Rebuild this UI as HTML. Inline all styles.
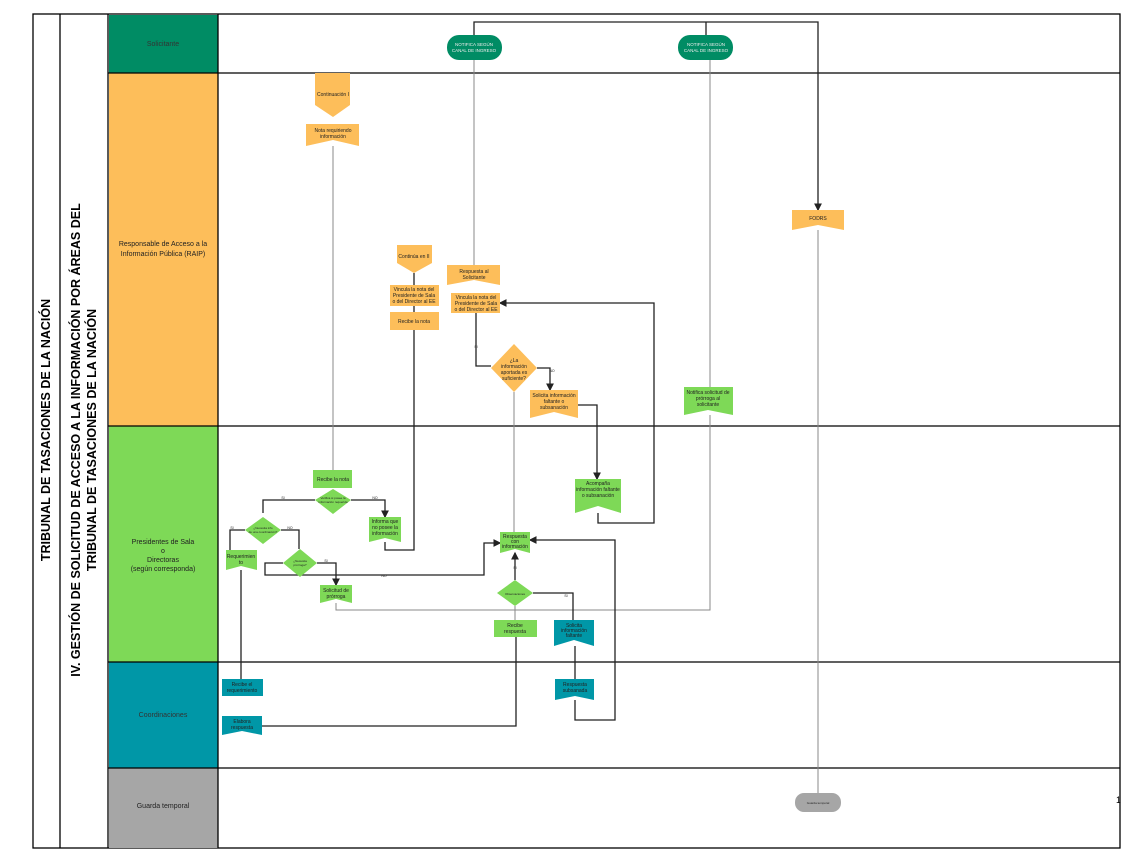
<!DOCTYPE html>
<html><head><meta charset="utf-8"><style>
html,body{margin:0;padding:0;background:#fff}
svg{display:block;font-family:"Liberation Sans",sans-serif}
.t{font-size:5px;text-anchor:middle;fill:#222}
.l{fill:none;stroke:#222;stroke-width:1.3}
.g{fill:none;stroke:#888;stroke-width:1}
.o{fill:#FDBE5A}.gr{fill:#7ED957}.c{fill:#0097A7}
</style></head><body>
<svg width="1128" height="859" viewBox="0 0 1128 859">
<defs><marker id="a" markerWidth="6" markerHeight="6" refX="5" refY="3" orient="auto"><path d="M0,0L6,3L0,6z" fill="#222"/></marker></defs>
<!-- frame -->
<rect x="33" y="14" width="1087" height="834" fill="none" stroke="#000" stroke-width="1.3"/>
<line x1="60" y1="14" x2="60" y2="848" stroke="#000" stroke-width="1.3"/>
<line x1="108" y1="14" x2="108" y2="848" stroke="#000" stroke-width="1.3"/>
<rect x="109" y="15" width="109" height="58" fill="#008C64"/>
<rect x="109" y="73" width="109" height="353" fill="#FDBE5A"/>
<rect x="109" y="426" width="109" height="236" fill="#7ED957"/>
<rect x="109" y="662" width="109" height="106" fill="#0097A7"/>
<rect x="109" y="768" width="109" height="80" fill="#A6A6A6"/>
<g stroke="#000" stroke-width="1.3">
<line x1="218" y1="14" x2="218" y2="848"/>
<line x1="108" y1="73" x2="1120" y2="73"/>
<line x1="108" y1="426" x2="1120" y2="426"/>
<line x1="108" y1="662" x2="1120" y2="662"/>
<line x1="108" y1="768" x2="1120" y2="768"/>
</g>
<g font-size="7" text-anchor="middle" fill="#222">
<text x="163" y="46" fill="#333">Solicitante</text>
<text x="163" y="246">Responsable de Acceso a la</text>
<text x="163" y="256">Información Pública (RAIP)</text>
<text x="163" y="544">Presidentes de Sala</text>
<text x="163" y="553">o</text>
<text x="163" y="562">Directoras</text>
<text x="163" y="571">(según corresponda)</text>
<text x="163" y="717" fill="#333">Coordinaciones</text>
<text x="163" y="808">Guarda temporal</text>
</g>
<g font-weight="bold" font-size="12.5" text-anchor="middle" fill="#000">
<text transform="translate(50,430) rotate(-90)">TRIBUNAL DE TASACIONES DE LA NACIÓN</text>
<text transform="translate(80,440) rotate(-90)">IV. GESTIÓN DE SOLICITUD DE ACCESO A LA INFORMACIÓN POR ÁREAS DEL</text>
<text transform="translate(96,440) rotate(-90)">TRIBUNAL DE TASACIONES DE LA NACIÓN</text>
</g>
<!-- connectors -->
<path class="l" d="M474,35V22H818V210" marker-end="url(#a)"/>
<path class="l" d="M706,35V22"/>
<path class="g" d="M474,265V60"/>
<path class="g" d="M710,387V60"/>
<path class="g" d="M818,230V795"/>
<path class="g" d="M333,146V470"/>
<path class="l" d="M414,273V285M414,306V312"/>
<path class="l" d="M414,330V550H385V542"/>
<path class="l" d="M476,313V366H491"/>
<path class="l" d="M537,368H550V390" marker-end="url(#a)"/>
<path class="g" d="M514,392V532" stroke="#aaa"/>
<path class="l" d="M578,405H597V479" marker-end="url(#a)"/>
<path class="l" d="M598,513V523H654V303H500" marker-end="url(#a)"/>
<path class="l" d="M315,500H263V513"/>
<path class="l" d="M351,500H385V517" marker-end="url(#a)"/>
<path class="l" d="M245,530H230V550"/>
<path class="l" d="M281,530H299V549"/>
<path class="l" d="M317,563H336V585" marker-end="url(#a)"/>
<path class="l" d="M283,563H265V575H484V543H500" marker-end="url(#a)"/>
<path class="g" d="M336,603V610H710V415" stroke="#666" stroke-width="1.3"/>
<path class="l" d="M515,580V553" marker-end="url(#a)"/>
<path class="l" d="M533,593H573V620"/>
<path class="g" d="M515,620V606"/>
<path class="l" d="M241,570V679"/>
<path class="l" d="M262,726H516V637"/>
<path class="l" d="M575,646V679"/>
<path class="l" d="M575,700V720H615V540H530" marker-end="url(#a)"/>
<!-- solicitante pills -->
<rect x="447" y="35" width="55" height="25" rx="12" fill="#008C64"/>
<rect x="678" y="35" width="55" height="25" rx="12" fill="#008C64"/>
<g class="t" style="font-size:4.5px;fill:#eee"><text x="474" y="46">NOTIFICA SEGÚN</text><text x="474" y="52">CANAL DE INGRESO</text><text x="706" y="46">NOTIFICA SEGÚN</text><text x="706" y="52">CANAL DE INGRESO</text></g>
<rect x="795" y="793" width="46" height="19" rx="9" fill="#A6A6A6"/>
<text class="t" x="818" y="804" style="font-size:3px">Guarda temporal</text>
<!-- orange shapes -->
<polygon class="o" points="315,73 350,73 350,105 333,117 315,105"/>
<polygon class="o" points="306,124 359,124 359,146 333,140 306,146"/>
<polygon class="o" points="792,210 844,210 844,230 818,225 792,230"/>
<polygon class="o" points="397,245 432,245 432,263 414,273 397,263"/>
<rect class="o" x="390" y="285" width="49" height="21"/>
<rect class="o" x="390" y="312" width="49" height="18"/>
<polygon class="o" points="447,265 500,265 500,285 474,280 447,285"/>
<rect class="o" x="451" y="293" width="49" height="20"/>
<polygon class="o" points="514,344 537,368 514,392 491,368"/>
<polygon class="o" points="530,390 578,390 578,418 554,412 530,418"/>
<!-- green -->
<polygon class="gr" points="684,387 733,387 733,415 708,410 684,415"/>
<rect class="gr" x="313" y="470" width="39" height="18"/>
<polygon class="gr" points="333,489 351,500 333,514 315,500"/>
<polygon class="gr" points="263,517 281,530 263,544 245,530"/>
<polygon class="gr" points="369,517 401,517 401,542 385,538 369,542"/>
<polygon class="gr" points="575,479 621,479 621,513 598,506 575,513"/>
<polygon class="gr" points="226,550 257,550 257,570 241,566 226,570"/>
<polygon class="gr" points="300,549 317,563 300,577 283,563"/>
<polygon class="gr" points="500,532 530,532 530,553 515,549 500,553"/>
<polygon class="gr" points="320,585 352,585 352,603 336,599 320,603"/>
<polygon class="gr" points="515,580 533,593 515,606 497,593"/>
<rect class="gr" x="494" y="620" width="43" height="17"/>
<!-- teal -->
<polygon class="c" points="554,620 594,620 594,646 574,640 554,646"/>
<rect class="c" x="222" y="679" width="41" height="17"/>
<polygon class="c" points="222,716 262,716 262,735 242,731 222,735"/>
<polygon class="c" points="555,679 594,679 594,700 575,696 555,700"/>
<!-- labels -->
<g class="t">
<text x="333" y="96">Continuación I</text>
<text x="333" y="132">Nota requiriendo</text><text x="333" y="138">información</text>
<text x="818" y="220">FODRS</text>
<text x="414" y="258">Continúa en II</text>
<text x="414" y="291">Vincula la nota del</text><text x="414" y="297">Presidente de Sala</text><text x="414" y="303">o del Director al EE</text>
<text x="414" y="323">Recibe la nota</text>
<text x="474" y="273">Respuesta al</text><text x="474" y="279">Solicitante</text>
<text x="476" y="299">Vincula la nota del</text><text x="476" y="305">Presidente de Sala</text><text x="476" y="311">o del Director al EE</text>
<text x="514" y="362">¿La</text><text x="514" y="368">información</text><text x="514" y="374">aportada es</text><text x="514" y="380">suficiente?</text>
<text x="554" y="397">Solicita información</text><text x="554" y="403">faltante o</text><text x="554" y="409">subsanación</text>
<text x="708" y="394">Notifica solicitud de</text><text x="708" y="400">prórroga al</text><text x="708" y="406">solicitante</text>
<text x="333" y="481">Recibe la nota</text>
<text x="333" y="499" style="font-size:3px">Verifica si posee la</text><text x="333" y="503" style="font-size:3px">información requerida</text>
<text x="263" y="529" style="font-size:3px">¿Necesita info</text><text x="263" y="533" style="font-size:3px">de una coordinación?</text>
<text x="385" y="523">Informa que</text><text x="385" y="529">no posee la</text><text x="385" y="535">información</text>
<text x="598" y="485">Acompaña</text><text x="598" y="491">información faltante</text><text x="598" y="497">o subsanación</text>
<text x="241" y="558">Requerimien</text><text x="241" y="564">to</text>
<text x="300" y="562" style="font-size:3px">¿Necesita</text><text x="300" y="566" style="font-size:3px">prórroga?</text>
<text x="515" y="538">Respuesta</text><text x="515" y="543">con</text><text x="515" y="548">información</text>
<text x="336" y="592">Solicitud de</text><text x="336" y="598">prórroga</text>
<text x="515" y="595" style="font-size:3px">Observaciones</text>
<text x="515" y="627">Recibe</text><text x="515" y="633">respuesta</text>
<text x="574" y="627">Solicita</text><text x="574" y="632">información</text><text x="574" y="637">faltante</text>
<text x="242" y="686">Recibe el</text><text x="242" y="692">requerimiento</text>
<text x="242" y="723">Elabora</text><text x="242" y="729">respuesta</text>
<text x="575" y="686">Respuesta</text><text x="575" y="692">subsanada</text>
</g>
<g class="t" style="font-size:3.5px">
<text x="283" y="499">SI</text><text x="375" y="499">NO</text>
<text x="232" y="529">SI</text><text x="290" y="529">NO</text>
<text x="326" y="562">SI</text><text x="384" y="577">NO</text>
<text x="476" y="348">SI</text><text x="552" y="372">NO</text>
<text x="515" y="569">SI</text><text x="566" y="597">SI</text>
</g>
<text x="1116" y="803" font-size="9">1</text>
</svg>
</body></html>
